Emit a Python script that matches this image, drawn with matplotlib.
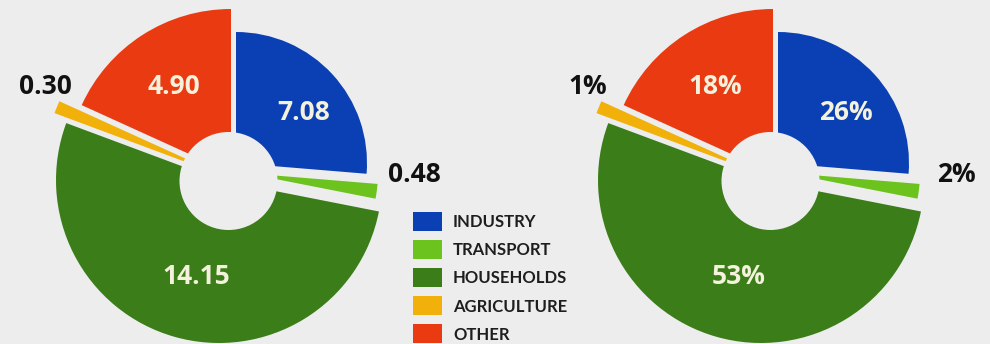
import matplotlib.pyplot as plt
from matplotlib.patches import Wedge, Circle, Rectangle

# **Energy use by sector**
sectors = ["INDUSTRY", "TRANSPORT", "HOUSEHOLDS", "AGRICULTURE", "OTHER"]
consumption = [7.08, 0.48, 14.15, 0.30, 4.90]
colors = ["#0b40b4", "#6cc31e", "#3b7d19", "#f2b10a", "#ea3a12"]

# **Canvas in pixels, y measured downwards**
W, H = 990, 344
bg = "#ededed"
chart_x = [228.5, 770.5]
chart_y = 181
hole_r = 49

# slice apex offset from the chart centre, and outer radius
apex_dx = [7.5, 16.5, -9.5, -2.5, 2.5]
apex_dy = [-18, -8, -1, -4, -8]
radii = [131, 133, 163, 183, 164]

# label offsets from the chart centre and whether they sit inside the slice
label_dx = [75, 186, -32, -183, -55]
label_dy = [-71, -9, 93, -97, -97]
label_inside = [True, False, True, False, True]

fig = plt.figure(figsize=(W / 100, H / 100), dpi=100, facecolor=bg)
ax = fig.add_axes([0, 0, 1, 1])
ax.set_xlim(0, W)
ax.set_ylim(0, H)
ax.axis("off")
ax.set_facecolor(bg)

total = sum(consumption)
fractions = [v / total for v in consumption]


def draw_donut(cx, texts):
    # slices run clockwise from 12 o'clock
    angle = 90.0
    for i, frac in enumerate(fractions):
        end = angle
        start = angle - frac * 360
        angle = start
        apex = (cx + apex_dx[i], H - (chart_y + apex_dy[i]))
        ax.add_patch(Wedge(apex, radii[i], start, end, fc=colors[i], lw=0))
    ax.add_patch(Circle((cx, H - chart_y), hole_r, fc=bg, lw=0))

    for i, t in enumerate(texts):
        ax.text(cx + label_dx[i], H - (chart_y + label_dy[i] + 10), t,
                ha="center", va="baseline", fontsize=19, fontweight="bold",
                family="Open Sans",
                color="#f4f1dc" if label_inside[i] else "#111111")


draw_donut(chart_x[0], [f"{v:.2f}" for v in consumption])
draw_donut(chart_x[1], [f"{f * 100:.0f}%" for f in fractions])

# **Legend**
for i, (name, col) in enumerate(zip(sectors, colors)):
    yc = 221 + i * 28.2
    ax.add_patch(Rectangle((413, H - yc - 9.5), 29, 19, fc=col, lw=0))
    ax.text(453, H - (yc + 6), name, ha="left", va="baseline",
            fontsize=12, fontweight="bold", family="Lato",
            color="#1e1e1e")

fig.savefig("out.png", dpi=100, facecolor=bg)
